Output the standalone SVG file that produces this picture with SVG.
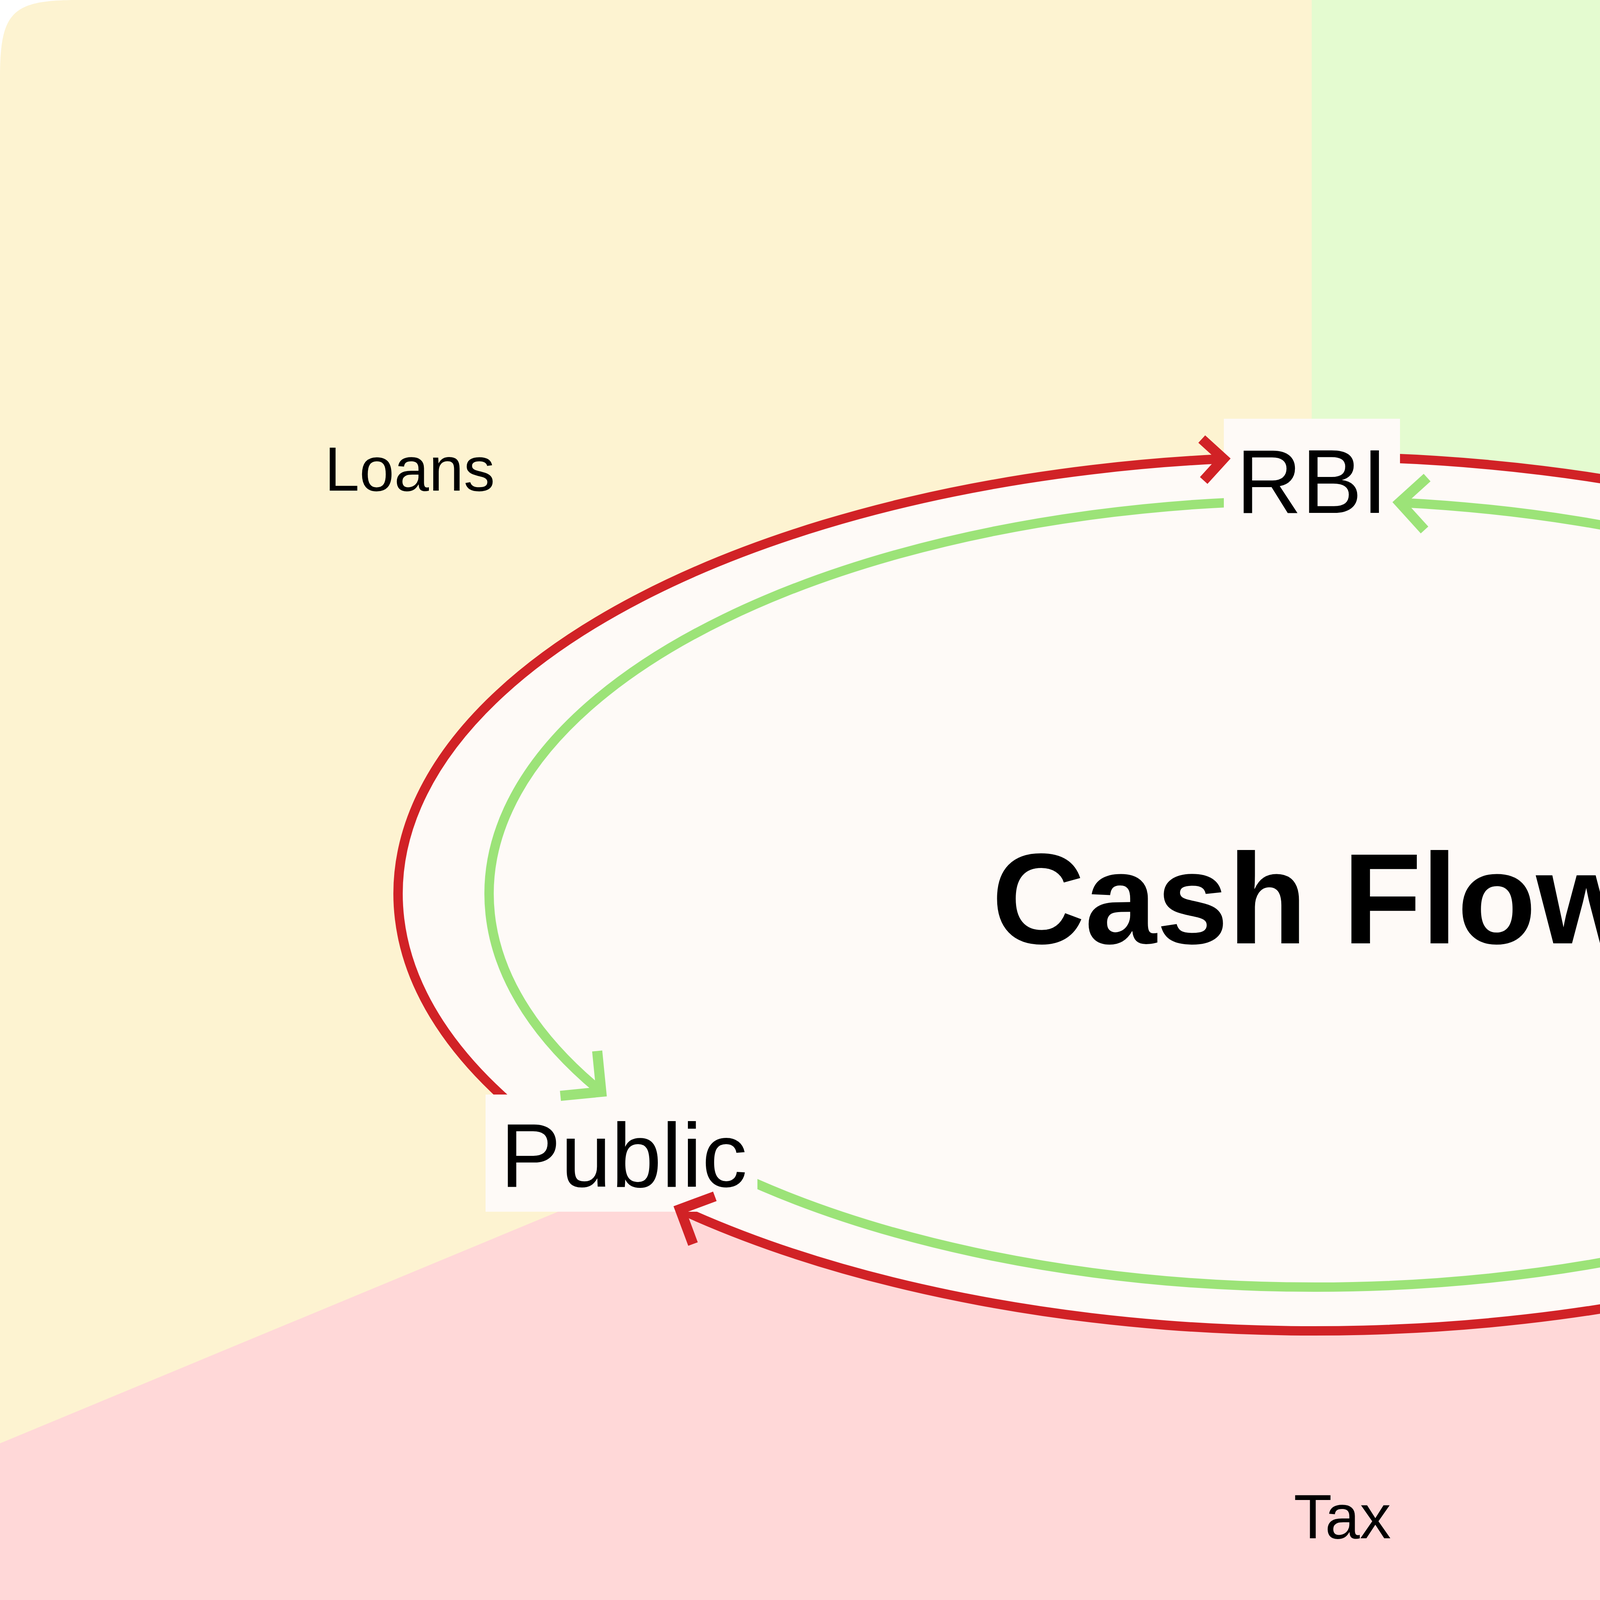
<svg xmlns="http://www.w3.org/2000/svg" width="6860" height="4400" viewBox="0 0 6860 4400">
<defs>
<style>
.line{fill:none;stroke-width:24;stroke-linecap:butt}
.head{fill:none;stroke-width:26;stroke-linejoin:miter;stroke-miterlimit:10;stroke-linecap:butt}
.red{stroke:#d12226}
.grn{stroke:#9ce378}
.box{fill:#fefaf7}
.node{font-family:"Liberation Sans",Arial,sans-serif;font-size:232px;fill:#000;text-anchor:middle}
.lbl{font-family:"Liberation Sans",Arial,sans-serif;font-size:160px;fill:#000}
.title{font-family:"Liberation Sans",Arial,sans-serif;font-size:330px;font-weight:bold;fill:#000;text-anchor:middle}
</style>
<clipPath id="frame">
<path d="M200 0H6660C6830 0 6860 30 6860 200V4190C6860 4370 6830 4400 6650 4400H210C30 4400 0 4370 0 4190V200C0 30 30 0 200 0Z"/>
</clipPath>
<clipPath id="outside-boxes">
<path clip-rule="evenodd" d="M0 0H6860V4400H0Z M3133 1072H3584V1372H3133Z M1243 2802H1939V3102H1243Z M4415 2754H5788V3053H4415Z"/>
</clipPath>
</defs>

<g id="background" clip-path="url(#frame)">
<rect x="0" y="0" width="6860" height="4400" fill="#fdf3d1"/>
<rect x="3358" y="0" width="3502" height="4400" fill="#e8e2bd"/>
<polygon points="3358,0 6860,0 6860,3804 3358,2280" fill="#e4fbd0"/>
<polygon points="0,3695 3440,2267 6860,3847 6860,4400 0,4400" fill="#ffd8d8"/>
<ellipse cx="3364" cy="2288" rx="2345" ry="1119" fill="#fefaf7"/>
</g>

<g id="title">
<text class="title" x="3364" y="2415">Cash Flow</text>
</g>

<g id="labels">
<text class="lbl" x="831" y="1256">Loans</text>
<text class="lbl" x="5250" y="976">Bonds</text>
<text class="lbl" x="3312" y="3938">Tax</text>
</g>

<g id="node-rbi">
<rect class="box" x="3133" y="1072" width="451" height="300"/>
<text class="node" x="3358" y="1313">RBI</text>
</g>
<g id="node-public">
<rect class="box" x="1243" y="2802" width="696" height="300"/>
<text class="node" x="1597" y="3038">Public</text>
</g>
<g id="node-government">
<rect class="box" x="4415" y="2754" width="1373" height="299"/>
<text class="node" x="5101" y="2990">Government</text>
</g>

<g id="connectors">
<g clip-path="url(#outside-boxes)">
<path id="public-rbi" class="line red" d="M1333.2 2847.5A2345 1119 0 0 1 3132 1174.5"/>
<path id="rbi-government" class="line red" d="M3445.8 1169.7A2345 1119 0 0 1 5514.5 2734.2"/>
<path id="government-public" class="line red" d="M5160.4 3007.3A2345 1119 0 0 1 1740.9 3095.7"/>
<path id="rbi-public" class="line grn" d="M3253.5 1282.4A2112 1007 0 0 0 1539.2 2795"/>
<path id="public-government" class="line grn" d="M1870.6 3000.1A2112 1007 0 0 0 4738.4 3052.6"/>
<path id="government-rbi" class="line grn" d="M5193.1 2791.5A2112 1007 0 0 0 3583 1286.4"/>
</g>
<polyline class="head red" points="3076.5,1124 3132,1174.5 3081.5,1230"/>
<polyline class="head red" points="5510.3,2644.3 5514.5,2734.2 5604.4,2730"/>
<polyline class="head red" points="1830,3062.6 1740.9,3095.7 1774.1,3184.7"/>
<polyline class="head grn" points="1528.8,2690.5 1539.2,2795 1434.7,2805.4"/>
<polyline class="head grn" points="4641.6,3011.9 4738.4,3052.6 4697.7,3149.4"/>
<polyline class="head grn" points="3653.4,1222.6 3583,1286.4 3646.8,1356.8"/>
</g>
</svg>
